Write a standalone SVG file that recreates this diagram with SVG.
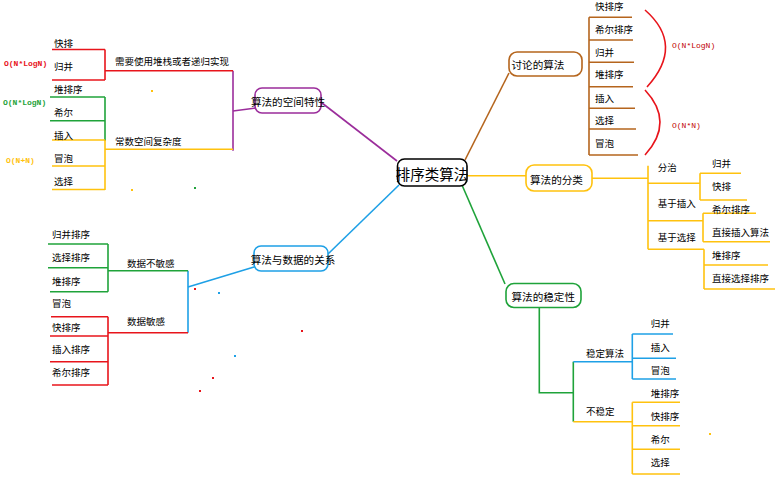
<svg xmlns="http://www.w3.org/2000/svg" width="781" height="482" viewBox="0 0 781 482">
<style>
text{font-family:"Noto Sans CJK SC","Noto Sans",sans-serif;fill:#000;dominant-baseline:central}
.s{font-size:9.5px}
.n{font-size:10.6px}
.c{font-size:14.5px}
.o{font-family:"Liberation Mono","DejaVu Sans Mono",monospace;font-size:8px;font-weight:bold}
line,polyline,path{fill:none;stroke-width:1.6}
.node{fill:#fff;stroke-width:1.6}
.r{stroke:#e8141b}.g{stroke:#1fa33a}.y{stroke:#ffc20e}.b{stroke:#1ea0e6}.p{stroke:#9b2d9b}.w{stroke:#b5651d}.k{stroke:#000}
</style>
<rect width="781" height="482" fill="#fff"/>
<g id="connectors">
<!-- central to nodes -->
<line class="p" x1="322" y1="103" x2="397" y2="161"/>
<line class="b" x1="328" y1="254" x2="399" y2="185"/>
<line class="w" x1="509" y1="73" x2="465" y2="160"/>
<line class="y" x1="467" y1="175.7" x2="526" y2="175.7"/>
<line class="g" x1="462" y1="185" x2="505" y2="284"/>
<!-- space characteristics -->
<line class="p" x1="256" y1="108" x2="233" y2="111"/>
<line class="p" x1="233" y1="70.7" x2="233" y2="150.7"/>
<line class="r" x1="105" y1="70.7" x2="233" y2="70.7"/>
<line class="r" x1="105" y1="49.5" x2="105" y2="80"/>
<line class="r" x1="52" y1="49.5" x2="105" y2="49.5"/>
<line class="r" x1="52" y1="80" x2="105" y2="80"/>
<line class="g" x1="50" y1="97" x2="105" y2="97"/>
<line class="g" x1="50" y1="120.7" x2="105" y2="120.7"/>
<line class="g" x1="105" y1="97" x2="105" y2="141"/>
<line class="y" x1="52" y1="140" x2="105" y2="140"/>
<line class="y" x1="52" y1="166" x2="105" y2="166"/>
<line class="y" x1="52" y1="189.5" x2="105" y2="189.5"/>
<line class="y" x1="105" y1="140" x2="105" y2="190"/>
<line class="y" x1="105" y1="149.3" x2="233" y2="149.3"/>
<!-- data relations -->
<line class="b" x1="254" y1="267" x2="188" y2="287"/>
<line class="b" x1="188" y1="270.7" x2="188" y2="332.7"/>
<line class="g" x1="108" y1="270.7" x2="188" y2="270.7"/>
<line class="g" x1="108" y1="244" x2="108" y2="291.7"/>
<line class="g" x1="48" y1="244" x2="108" y2="244"/>
<line class="g" x1="48" y1="267.7" x2="108" y2="267.7"/>
<line class="g" x1="50" y1="291.7" x2="108" y2="291.7"/>
<line class="r" x1="108" y1="332.7" x2="188" y2="332.7"/>
<line class="r" x1="108" y1="316.7" x2="108" y2="385"/>
<line class="r" x1="51" y1="316.7" x2="108" y2="316.7"/>
<line class="r" x1="50" y1="336" x2="108" y2="336"/>
<line class="r" x1="50" y1="361.7" x2="108" y2="361.7"/>
<line class="r" x1="52" y1="385" x2="108" y2="385"/>
<!-- discussed algorithms -->
<line class="w" x1="589" y1="17.3" x2="589" y2="155"/>
<line class="w" x1="589" y1="17.3" x2="632" y2="17.3"/>
<line class="w" x1="589" y1="40" x2="633" y2="40"/>
<line class="w" x1="589" y1="62.3" x2="634" y2="62.3"/>
<line class="w" x1="589" y1="86.7" x2="633" y2="86.7"/>
<line class="w" x1="589" y1="108.3" x2="635" y2="108.3"/>
<line class="w" x1="589" y1="129" x2="636" y2="129"/>
<line class="w" x1="589" y1="155" x2="638" y2="155"/>
<path class="r" d="M645,10 Q685,45 647,87"/>
<path class="r" d="M645,90 Q675,122 645,155"/>
<!-- classification -->
<line class="y" x1="592" y1="178.3" x2="648" y2="178.3"/>
<line class="y" x1="648" y1="165.7" x2="648" y2="249.3"/>
<line class="y" x1="648" y1="183.3" x2="700" y2="183.3"/>
<line class="y" x1="648" y1="220.7" x2="703" y2="220.7"/>
<line class="y" x1="648" y1="249.3" x2="704" y2="249.3"/>
<line class="y" x1="700" y1="173.3" x2="700" y2="200"/>
<line class="y" x1="700" y1="173.3" x2="741" y2="173.3"/>
<line class="y" x1="700" y1="200" x2="747" y2="200"/>
<line class="y" x1="703" y1="213.3" x2="703" y2="241.7"/>
<line class="y" x1="703" y1="213.3" x2="756" y2="213.3"/>
<line class="y" x1="703" y1="241.7" x2="770" y2="241.7"/>
<line class="y" x1="704" y1="249.3" x2="704" y2="289"/>
<line class="y" x1="704" y1="265" x2="768" y2="265"/>
<line class="y" x1="704" y1="289" x2="775" y2="289"/>
<!-- stability -->
<polyline class="g" points="539.3,307.5 539.3,392.7 573.3,392.7"/>
<line class="g" x1="573.3" y1="361.7" x2="573.3" y2="421.7"/>
<line class="b" x1="573.3" y1="361.7" x2="632.3" y2="361.7"/>
<line class="b" x1="632.3" y1="334" x2="632.3" y2="379"/>
<line class="b" x1="632.3" y1="334" x2="673" y2="334"/>
<line class="b" x1="632.3" y1="358.3" x2="676" y2="358.3"/>
<line class="b" x1="632.3" y1="379" x2="676" y2="379"/>
<line class="y" x1="573.3" y1="421.7" x2="632.3" y2="421.7"/>
<line class="y" x1="632.3" y1="402.3" x2="632.3" y2="474"/>
<line class="y" x1="632.3" y1="402.3" x2="680" y2="402.3"/>
<line class="y" x1="632.3" y1="425.7" x2="680" y2="425.7"/>
<line class="y" x1="632.3" y1="449.3" x2="680" y2="449.3"/>
<line class="y" x1="632.3" y1="474" x2="680" y2="474"/>
</g>
<g id="center">
<rect class="node k" x="397.5" y="159" width="69.5" height="27" rx="7" stroke-width="1.8"/>
<text class="c" x="432" y="173" text-anchor="middle">排序类算法</text>
</g>
<g id="space">
<rect class="node p" x="255" y="88" width="66" height="25" rx="7"/>
<text class="n" x="288" y="101.5" text-anchor="middle">算法的空间特性</text>
<text class="s" x="54" y="43">快排</text>
<text class="s" x="54" y="66">归并</text>
<text class="s" x="115" y="60.5">需要使用堆栈或者递归实现</text>
<text class="o" x="4" y="63" fill="#e8141b" style="fill:#e8141b">O(N*LogN)</text>
<text class="s" x="54" y="89">堆排序</text>
<text class="s" x="54" y="112">希尔</text>
<text class="o" x="3" y="102.7" style="fill:#1fa33a">O(N*LogN)</text>
<text class="s" x="54" y="135">插入</text>
<text class="s" x="54" y="157.7">冒泡</text>
<text class="s" x="54" y="180.7">选择</text>
<text class="s" x="115" y="140.7">常数空间复杂度</text>
<text class="o" x="6" y="160" style="fill:#ffc20e">O(N+N)</text>
</g>
<g id="data">
<rect class="node b" x="254" y="246" width="74" height="25" rx="7"/>
<text class="n" x="293" y="259.5" text-anchor="middle">算法与数据的关系</text>
<text class="s" x="52" y="234.3">归并排序</text>
<text class="s" x="52" y="256.7">选择排序</text>
<text class="s" x="52" y="280.7">堆排序</text>
<text class="s" x="127" y="263.3">数据不敏感</text>
<text class="s" x="52" y="303.3">冒泡</text>
<text class="s" x="52" y="326.7">快排序</text>
<text class="s" x="52" y="349.3">插入排序</text>
<text class="s" x="52" y="372.3">希尔排序</text>
<text class="s" x="127" y="321">数据敏感</text>
</g>
<g id="discussed">
<rect class="node w" x="509" y="52" width="73" height="24" rx="8"/>
<text class="n" x="511.5" y="64.3">讨论的算法</text>
<text class="s" x="595" y="6">快排序</text>
<text class="s" x="595" y="29">希尔排序</text>
<text class="s" x="595" y="51.7">归并</text>
<text class="s" x="595" y="74">堆排序</text>
<text class="s" x="595" y="98.3">插入</text>
<text class="s" x="595" y="120">选择</text>
<text class="s" x="595" y="143.3">冒泡</text>
<text class="o" x="672" y="45" style="fill:#c00000;font-weight:normal">O(N*LogN)</text>
<text class="o" x="672" y="125" style="fill:#c00000;font-weight:normal">O(N*N)</text>
</g>
<g id="classification">
<rect class="node y" x="526" y="165" width="66" height="26" rx="8"/>
<text class="n" x="530" y="179.3">算法的分类</text>
<text class="s" x="657.7" y="167.3">分治</text>
<text class="s" x="657.7" y="202.7">基于插入</text>
<text class="s" x="657.7" y="237.3">基于选择</text>
<text class="s" x="712" y="163.3">归并</text>
<text class="s" x="712" y="185.7">快排</text>
<text class="s" x="712" y="209">希尔排序</text>
<text class="s" x="712" y="231.7">直接插入算法</text>
<text class="s" x="712" y="255">堆排序</text>
<text class="s" x="712" y="277.7">直接选择排序</text>
</g>
<g id="stability">
<rect class="node g" x="506" y="283.5" width="75" height="24" rx="8"/>
<text class="n" x="511.5" y="296">算法的稳定性</text>
<text class="s" x="586" y="352.7">稳定算法</text>
<text class="s" x="586" y="410.7">不稳定</text>
<text class="s" x="650.7" y="323.3">归并</text>
<text class="s" x="650.7" y="347.3">插入</text>
<text class="s" x="650.7" y="370">冒泡</text>
<text class="s" x="650.7" y="393.3">堆排序</text>
<text class="s" x="650.7" y="416">快排序</text>
<text class="s" x="650.7" y="439">希尔</text>
<text class="s" x="650.7" y="462.3">选择</text>
</g>
<g id="specks">
<rect x="151" y="90" width="2" height="2" fill="#ffc20e"/>
<rect x="131" y="189" width="2" height="2" fill="#ffc20e"/>
<rect x="194" y="187" width="2" height="2" fill="#1fa33a"/>
<rect x="194" y="288" width="2" height="2" fill="#e8141b"/>
<rect x="218" y="292" width="2" height="2" fill="#1ea0e6"/>
<rect x="301" y="330" width="2" height="2" fill="#e8141b"/>
<rect x="234" y="355" width="2" height="2" fill="#1ea0e6"/>
<rect x="212" y="377" width="2" height="2" fill="#e8141b"/>
<rect x="199" y="390" width="2" height="2" fill="#e8141b"/>
<rect x="709" y="433" width="2" height="2" fill="#ffc20e"/>
</g>
</svg>
